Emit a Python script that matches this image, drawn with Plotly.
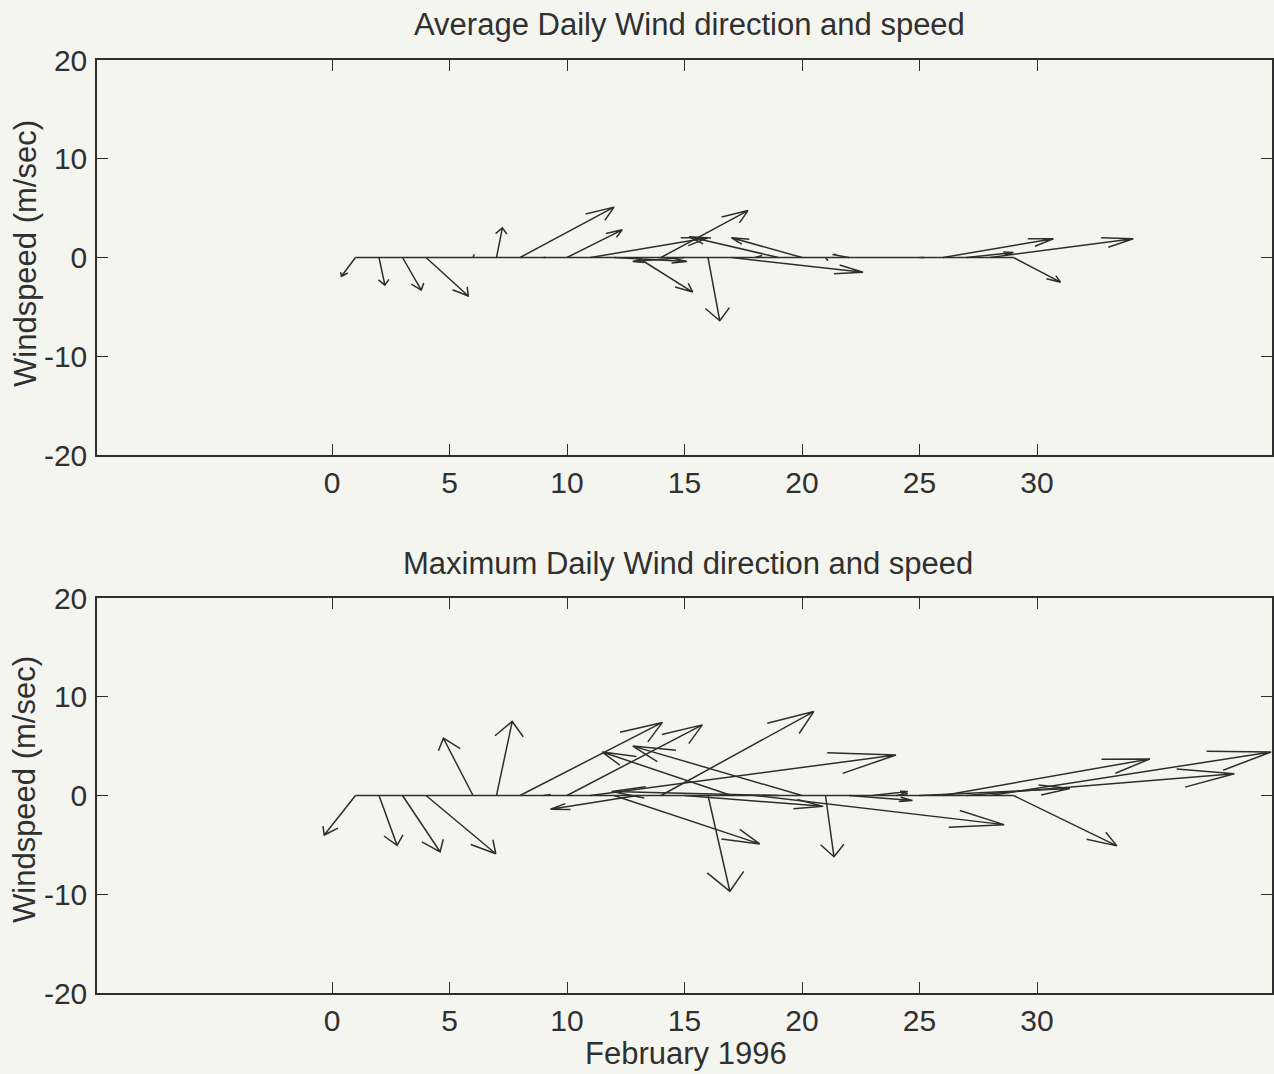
import numpy as np
import plotly.graph_objects as go

# ---------------- data ----------------
days = list(range(1, 30))  # February 1996

avg_u = [-0.6, 0.25, 0.8, 1.8, 0.0, 0.05, 0.25, 4.0, 0.1, 2.35,
         5.0, 3.1, 2.35, 3.7, -2.2, 0.5, 5.6, 0.3, -3.8, -3.0,
         0.1, -0.7, 0.0, 0.0, 0.2, 4.7, 2.0, 6.1, 2.0]
avg_v = [-1.9, -2.8, -3.3, -3.9, 0.0, 0.3, 3.0, 5.1, 0.0, 2.8,
         2.0, -0.4, -3.5, 4.75, -0.4, -6.4, -1.5, 0.2, 2.1, 2.0,
         -0.3, 0.3, 0.0, 0.0, 0.0, 1.9, 0.5, 1.9, -2.5]

max_u = [-1.33, 0.77, 1.6, 2.97, 0.0, -1.26, 0.67, 6.06, 0.3, 5.76,
         13.0, 6.2, -3.7, 6.5, 5.9, 0.93, -5.5, 10.6, -7.1, -7.2,
         0.36, 2.7, 1.5, 0.5, 6.4, 8.8, 11.4, 11.96, 4.4]
max_v = [-4.0, -5.05, -5.7, -5.9, 0.0, 5.8, 7.5, 7.4, 0.1, 7.15,
         4.1, -4.9, -1.4, 8.5, -1.1, -9.7, 4.4, -2.95, 0.4, 5.0,
         -6.2, -0.5, 0.4, 0.2, 0.7, 3.7, 2.2, 4.4, -5.1]

x_ticks = [0, 5, 10, 15, 20, 25, 30]
y_ticks = [-20, -10, 0, 10, 20]
y_tick_labels = ["-20", "-10", "0", "10", "20"]

titles = ["Average Daily Wind direction and speed",
          "Maximum Daily Wind direction and speed"]
y_title = "Windspeed (m/sec)"
x_title = "February 1996"

# ---------------- feather construction (MATLAB style) ----------------
ARROW = np.array([0, 1, .8, 1, .8]) + 1j * np.array([0, 0, .08, 0, -.08])


def feather(u, v):
    xs, ys = [], []
    for d, uu, vv in zip(days, u, v):
        z = ARROW * complex(uu, vv)
        xs += list(d + z.real) + [None]
        ys += list(z.imag) + [None]
    return xs, ys


LINE = "#2e2e2e"
BG = "#f5f5f0"
FONT = "Liberation Sans, Arial, sans-serif"
TXT = "#303030"

fig = go.Figure()

for i, (u, v) in enumerate([(avg_u, avg_v), (max_u, max_v)]):
    xa = "x" if i == 0 else "x2"
    ya = "y" if i == 0 else "y2"
    xs, ys = feather(u, v)
    fig.add_trace(go.Scatter(x=xs, y=ys, mode="lines", xaxis=xa, yaxis=ya,
                             line=dict(color=LINE, width=1.5),
                             hoverinfo="skip", showlegend=False))
    fig.add_trace(go.Scatter(x=[days[0], days[-1]], y=[0, 0], mode="lines",
                             xaxis=xa, yaxis=ya,
                             line=dict(color=LINE, width=1.5),
                             hoverinfo="skip", showlegend=False))

W, H = 1274, 1074
xdom = [97 / W, 1272 / W]
ydom_top = [(H - 455) / H, (H - 60) / H]
ydom_bot = [(H - 993) / H, (H - 598) / H]

axis_common = dict(showline=True, linecolor=LINE, linewidth=1.5, mirror="ticks",
                   ticks="inside", ticklen=11, tickwidth=1.2, tickcolor=LINE,
                   showgrid=False, zeroline=False, automargin=False,
                   tickfont=dict(family=FONT, size=30, color=TXT))

fig.update_layout(
    width=W, height=H,
    margin=dict(l=0, r=0, t=0, b=0, pad=0, autoexpand=False),
    paper_bgcolor=BG, plot_bgcolor=BG,
    showlegend=False,
    xaxis=dict(domain=xdom, range=[-10, 40], tickvals=x_ticks, anchor="y",
               ticklabelstandoff=0, **axis_common),
    yaxis=dict(domain=ydom_top, range=[-20, 20], tickvals=y_ticks,
               ticktext=y_tick_labels, anchor="x",
               ticklabelstandoff=2, **axis_common),
    xaxis2=dict(domain=xdom, range=[-10, 40], tickvals=x_ticks, anchor="y2",
                ticklabelstandoff=0, **axis_common),
    yaxis2=dict(domain=ydom_bot, range=[-20, 20], tickvals=y_ticks,
                ticktext=y_tick_labels, anchor="x2",
                ticklabelstandoff=2, **axis_common),
)

ann_font = dict(family=FONT, size=31, color=TXT)
fig.add_annotation(text=titles[0], x=689 / W, y=1 - 25 / H, xref="paper", yref="paper",
                   showarrow=False, font=ann_font, xanchor="center", yanchor="middle")
fig.add_annotation(text=titles[1], x=688 / W, y=1 - 563 / H, xref="paper", yref="paper",
                   showarrow=False, font=ann_font, xanchor="center", yanchor="middle")
for yc in (254, 790):
    fig.add_annotation(text=y_title, x=25 / W, y=1 - yc / H, xref="paper", yref="paper",
                       showarrow=False, textangle=-90,
                       font=dict(family=FONT, size=31, color=TXT),
                       xanchor="center", yanchor="middle")
fig.add_annotation(text=x_title, x=686 / W, y=1 - 1053 / H, xref="paper", yref="paper",
                   showarrow=False, font=dict(family=FONT, size=31, color=TXT),
                   xanchor="center", yanchor="middle")

fig.write_html("out.html")
